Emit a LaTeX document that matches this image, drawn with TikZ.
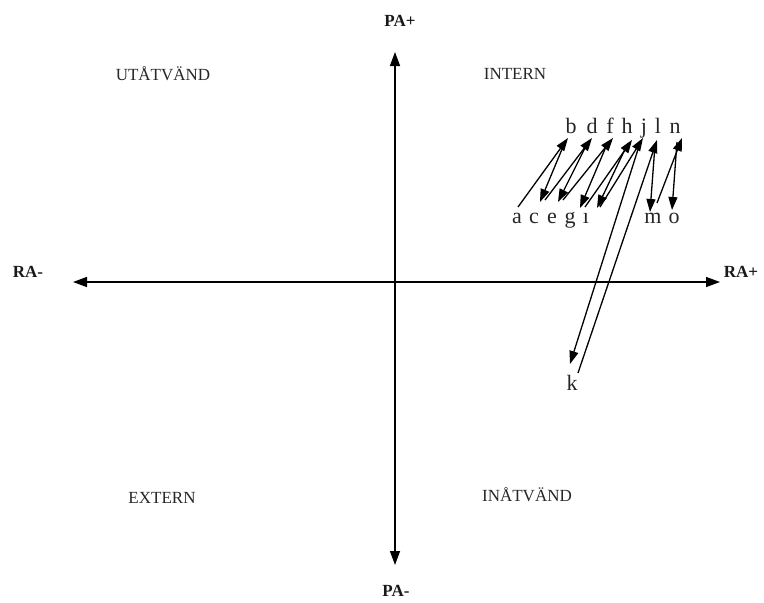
\documentclass[tikz,border=0pt]{standalone}
\usepackage{fontspec}
\setmainfont{Liberation Serif}
\usetikzlibrary{arrows.meta}
\tikzset{
  axisline/.style={line width=1.4pt, {Triangle[length=14pt,width=10pt]}-{Triangle[length=14pt,width=10pt]}},
  seqarrow/.style={line width=1.3pt, -{Triangle[length=13pt,width=9pt]}},
  axislabel/.style={font=\fontsize{17}{19}\selectfont\bfseries, inner sep=0pt, text=black!90},
  quadlabel/.style={font=\fontsize{17}{19}\selectfont, inner sep=0pt, text=black!85},
  letter/.style={font=\fontsize{22}{24}\selectfont, inner sep=0pt, anchor=base, text=black!85}
}
\begin{document}
\begin{tikzpicture}[x=1pt,y=-1pt]
\useasboundingbox (0,0) rectangle (764,603);
% axes
\coordinate (xl) at (73,282);
\coordinate (xr) at (720,282);
\coordinate (yt) at (395,52);
\coordinate (yb) at (395,565);
\draw[axisline] (xl) -- (xr);
\draw[axisline] (yb) -- (yt);
% axis labels
\node[axislabel] (pap) at (400,21) {PA+};
\node[axislabel] (pam) at (396,591) {PA-};
\node[axislabel] (ram) at (28,272) {RA-};
\node[axislabel] (rap) at (741,272) {RA+};
% quadrant labels
\node[quadlabel] (utv) at (163,74) {UTÅTVÄND};
\node[quadlabel] (int) at (515,74) {INTERN};
\node[quadlabel] (ext) at (162,498) {EXTERN};
\node[quadlabel] (inv) at (527,495) {INÅTVÄND};
% letters
\node[letter] (b) at (571,133) {b};
\node[letter] (d) at (592,133) {d};
\node[letter] (f) at (610,133) {f};
\node[letter] (h) at (627,133) {h};
\node[letter] (j) at (644,133) {j};
\node[letter] (l) at (658,133) {l};
\node[letter] (n) at (675,133) {n};
\node[letter] (a) at (517,223) {a};
\node[letter] (c) at (534,223) {c};
\node[letter] (e) at (552,223) {e};
\node[letter] (g) at (570,223) {g};
\node[letter] (i) at (586,223) {ı};
\node[letter] (m) at (653,223) {m};
\node[letter] (o) at (674,223) {o};
\node[letter] (k) at (572,390) {k};
% arrow end points near the letters
\coordinate (a1) at (518,207);  \coordinate (b1) at (568,138);
\coordinate (b2) at (565,142);  \coordinate (c1) at (540,202);
\coordinate (c2) at (545,200);  \coordinate (d1) at (592,138);
\coordinate (d2) at (588,142);  \coordinate (e1) at (558,202);
\coordinate (e2) at (563,200);  \coordinate (f1) at (613,138);
\coordinate (f2) at (608,142);  \coordinate (g1) at (580,208);
\coordinate (g2) at (585,207);  \coordinate (h1) at (632,140);
\coordinate (h2) at (628,143);  \coordinate (i1) at (597,208);
\coordinate (i2) at (600,207);  \coordinate (j1) at (643,138);
\coordinate (j2) at (640,143);  \coordinate (k1) at (570,364);
\coordinate (k2) at (578,373);  \coordinate (l1) at (657,140);
\coordinate (l2) at (655,145);  \coordinate (m1) at (650,212);
\coordinate (m2) at (657,203);  \coordinate (n1) at (682,138);
\coordinate (n2) at (677,142);  \coordinate (o1) at (672,210);
\draw[seqarrow] (a1) -- (b1);
\draw[seqarrow] (b2) -- (c1);
\draw[seqarrow] (c2) -- (d1);
\draw[seqarrow] (d2) -- (e1);
\draw[seqarrow] (e2) -- (f1);
\draw[seqarrow] (f2) -- (g1);
\draw[seqarrow] (g2) -- (h1);
\draw[seqarrow] (h2) -- (i1);
\draw[seqarrow] (i2) -- (j1);
\draw[seqarrow] (j2) -- (k1);
\draw[seqarrow] (k2) -- (l1);
\draw[seqarrow] (l2) -- (m1);
\draw[seqarrow] (m2) -- (n1);
\draw[seqarrow] (n2) -- (o1);
\end{tikzpicture}
\end{document}
